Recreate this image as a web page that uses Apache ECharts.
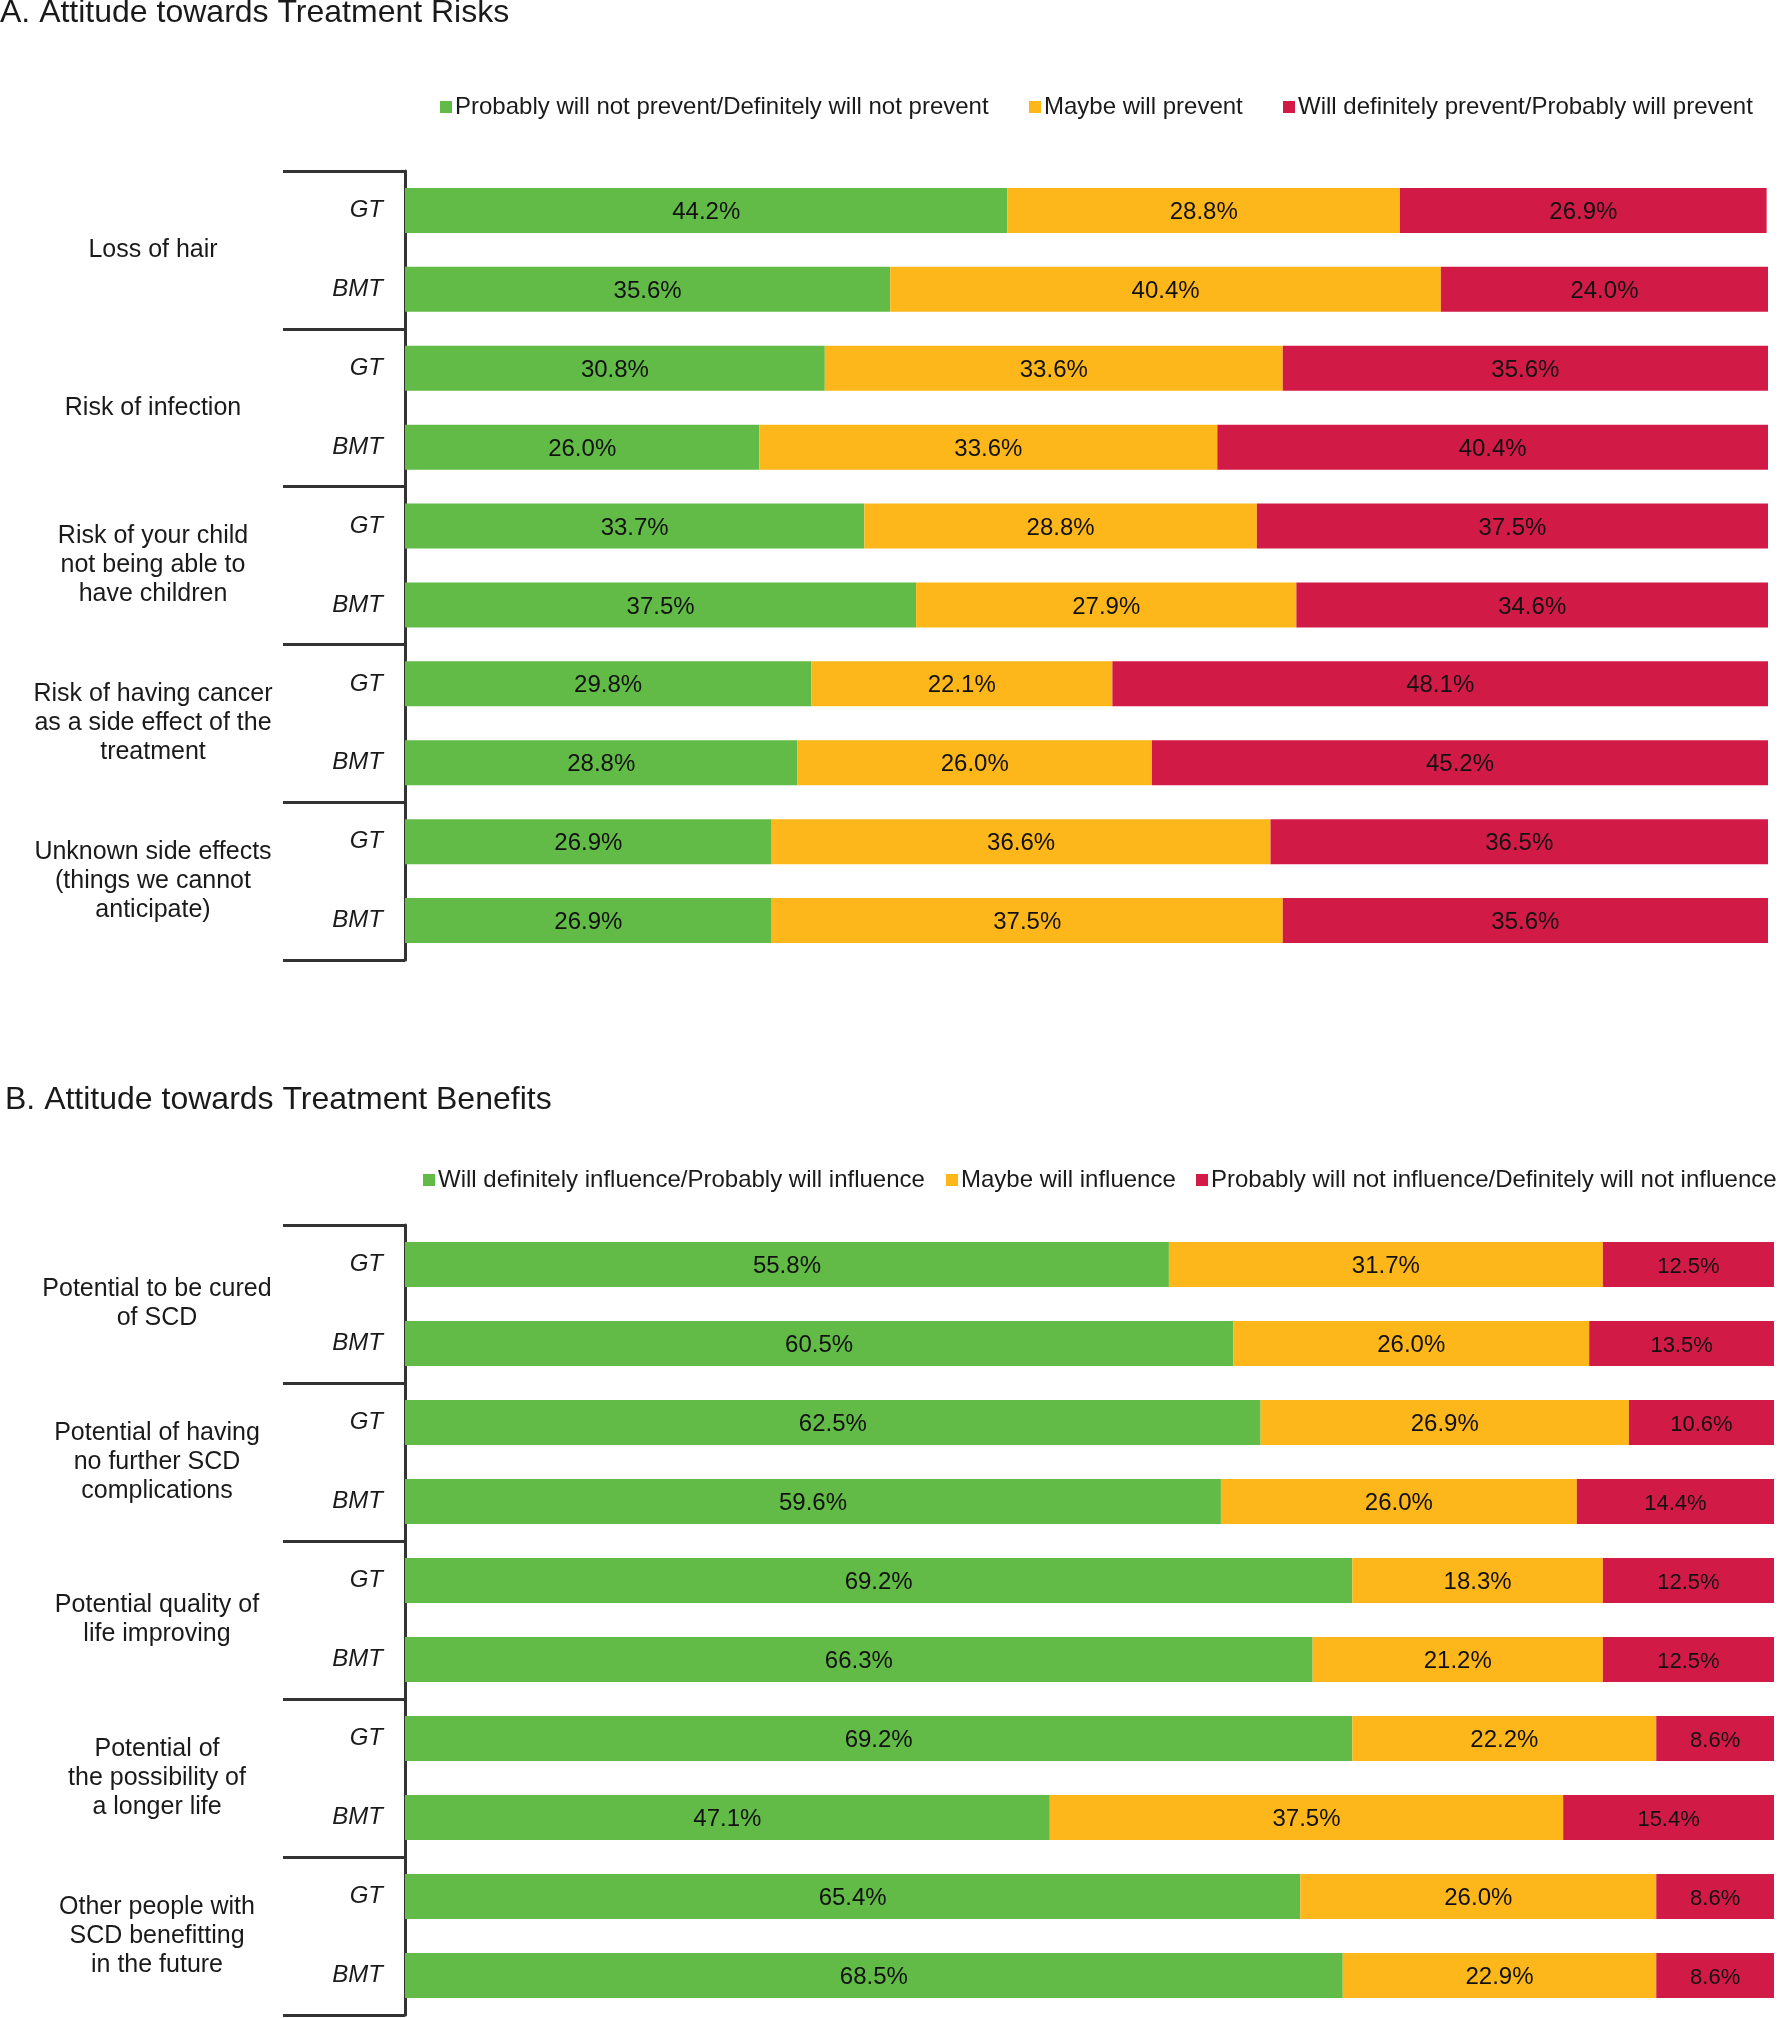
<!DOCTYPE html>
<html>
<head>
<meta charset="utf-8">
<script src="https://cdn.jsdelivr.net/npm/echarts@6/dist/echarts.min.js"></script>
<style>
html,body{margin:0;padding:0;background:#fff;}
#chart{width:1778px;height:2018px;}
</style>
</head>
<body>
<div id="chart"></div>
<script>
// ---------- DATA ----------
const titleA = 'A. Attitude towards Treatment Risks';
const titleB = 'B. Attitude towards Treatment Benefits';
const riskTopics = [
  'Loss of hair',
  'Risk of infection',
  'Risk of your child\nnot being able to\nhave children',
  'Risk of having cancer\nas a side effect of the\ntreatment',
  'Unknown side effects\n(things we cannot\nanticipate)'
];
const benefitTopics = [
  'Potential to be cured\nof SCD',
  'Potential of having\nno further SCD\ncomplications',
  'Potential quality of\nlife improving',
  'Potential of\nthe possibility of\na longer life',
  'Other people with\nSCD benefitting\nin the future'
];
const groups = ['GT', 'BMT'];

const riskSeriesNames = [
  'Probably will not prevent/Definitely will not prevent',
  'Maybe will prevent',
  'Will definitely prevent/Probably will prevent'
];
const riskNotPrevent = [44.2, 35.6, 30.8, 26.0, 33.7, 37.5, 29.8, 28.8, 26.9, 26.9];
const riskMaybe      = [28.8, 40.4, 33.6, 33.6, 28.8, 27.9, 22.1, 26.0, 36.6, 37.5];
const riskPrevent    = [26.9, 24.0, 35.6, 40.4, 37.5, 34.6, 48.1, 45.2, 36.5, 35.6];

const benefitSeriesNames = [
  'Will definitely influence/Probably will influence',
  'Maybe will influence',
  'Probably will not influence/Definitely will not influence'
];
const benefitInfluence = [55.8, 60.5, 62.5, 59.6, 69.2, 66.3, 69.2, 47.1, 65.4, 68.5];
const benefitMaybe     = [31.7, 26.0, 26.9, 26.0, 18.3, 21.2, 22.2, 37.5, 26.0, 22.9];
const benefitNot       = [12.5, 13.5, 10.6, 14.4, 12.5, 12.5,  8.6, 15.4,  8.6,  8.6];

// ---------- STYLE ----------
const FONT = '"Liberation Sans", Arial, sans-serif';
const TXT = '#1a1a1a';
const colors = ['#62BB46', '#FDB71A', '#D21A46'];
const LINE = '#333333';

function rows(topics) {
  const out = [];
  topics.forEach((t, i) => groups.forEach(g => out.push(i + '|' + g)));
  return out;
}

const chart = echarts.init(document.getElementById('chart'), null, {renderer: 'canvas'});

function yAxesFor(gridIndex, topics, labelMargin) {
  return [
    {
      type: 'category', gridIndex: gridIndex, inverse: true,
      data: rows(topics),
      axisLine: {show: true, lineStyle: {color: LINE, width: 3}},
      axisTick: {show: false},
      axisLabel: {
        interval: 0, margin: 22, fontFamily: FONT, fontSize: 24, fontStyle: 'italic', color: TXT,
        padding: [4, 0, 0, 0],
        formatter: v => v.split('|')[1]
      }
    },
    {
      type: 'category', gridIndex: gridIndex, inverse: true, position: 'left',
      data: topics,
      axisLine: {show: false},
      axisTick: {show: true, interval: 0, length: 122, inside: false, lineStyle: {color: LINE, width: 3}},
      axisLabel: {
        interval: 0, margin: labelMargin, align: 'center', fontFamily: FONT, fontSize: 25,
        color: TXT, lineHeight: 29
      }
    }
  ];
}

function barSeries(names, valueArrays, xi, yi, lastSize) {
  return names.map((n, k) => ({
    name: n, type: 'bar', stack: 'stack' + xi, xAxisIndex: xi, yAxisIndex: yi,
    barCategoryGap: '43%',
    itemStyle: {color: colors[k]},
    label: {
      show: true, position: 'inside', color: '#111', fontFamily: FONT,
      fontSize: (k === 2 && lastSize) ? lastSize : 24,
      offset: [0, 2],
      formatter: p => p.value.toFixed(1) + '%'
    },
    emphasis: {disabled: true},
    data: valueArrays[k]
  }));
}

function legendItem(name, left, top) {
  return {
    data: [name], left: left, top: top, padding: 0,
    itemWidth: 12, itemHeight: 12, itemGap: 0, icon: 'rect',
    textStyle: {fontFamily: FONT, fontSize: 24, color: TXT, padding: [0, 0, 0, -2]}
  };
}

const option = {
  animation: false,
  backgroundColor: '#ffffff',
  title: [
    {text: titleA, left: 0, top: -3, padding: 0,
     textStyle: {fontFamily: FONT, fontSize: 32, fontWeight: 'normal', color: TXT}},
    {text: titleB, left: 5, top: 1084, padding: 0,
     textStyle: {fontFamily: FONT, fontSize: 32, fontWeight: 'normal', color: TXT}}
  ],
  legend: [
    legendItem(riskSeriesNames[0], 440, 95),
    legendItem(riskSeriesNames[1], 1029, 95),
    legendItem(riskSeriesNames[2], 1283, 95),
    legendItem(benefitSeriesNames[0], 423, 1168),
    legendItem(benefitSeriesNames[1], 946, 1168),
    legendItem(benefitSeriesNames[2], 1196, 1168)
  ],
  grid: [
    {left: 405, right: 10, top: 171, height: 789},
    {left: 405, right: 4, top: 1225, height: 790}
  ],
  xAxis: [
    {type: 'value', gridIndex: 0, min: 0, max: 100, show: false},
    {type: 'value', gridIndex: 1, min: 0, max: 100, show: false}
  ],
  yAxis: [].concat(yAxesFor(0, riskTopics, 252), yAxesFor(1, benefitTopics, 248)),
  series: [].concat(
    barSeries(riskSeriesNames, [riskNotPrevent, riskMaybe, riskPrevent], 0, 0, null),
    barSeries(benefitSeriesNames, [benefitInfluence, benefitMaybe, benefitNot], 1, 2, 22)
  )
};
chart.setOption(option);
</script>
</body>
</html>
